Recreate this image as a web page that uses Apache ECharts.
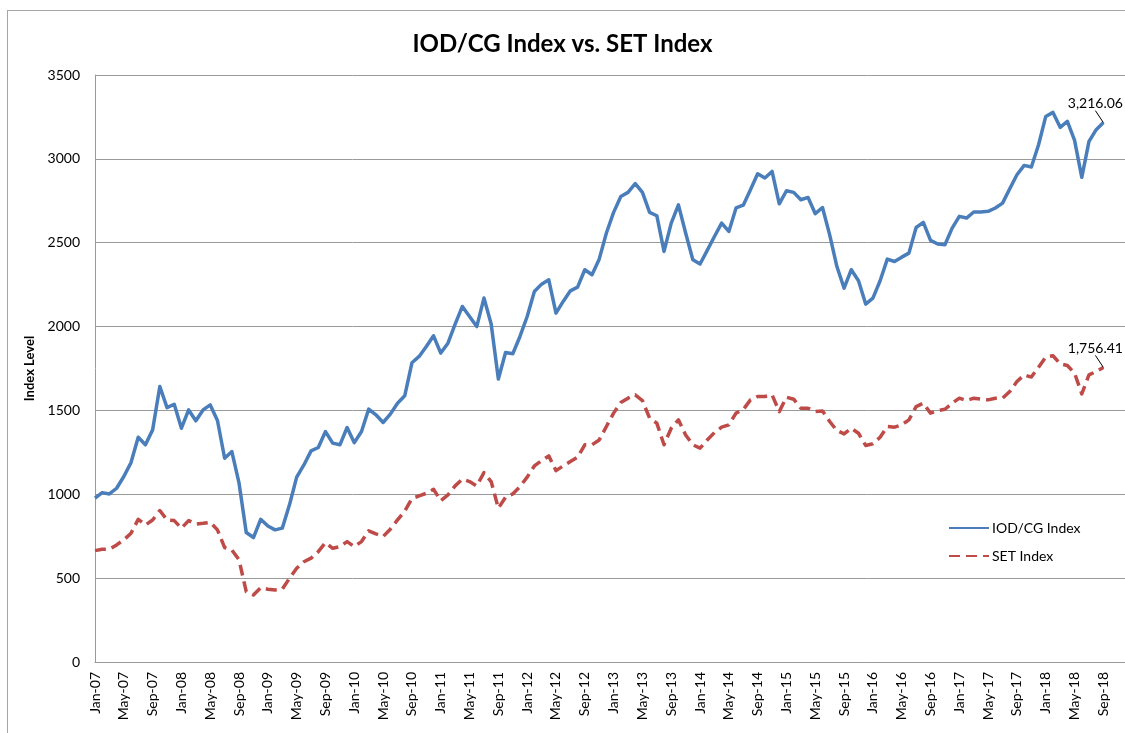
<!DOCTYPE html>
<html>
<head>
<meta charset="utf-8">
<script src="https://cdn.jsdelivr.net/npm/echarts@6/dist/echarts.min.js"></script>
<style>
  html, body { margin: 0; padding: 0; background: #fff; }
  #frame { position: absolute; left: 7px; top: 10px; width: 1200px; height: 800px;
           border-left: 1px solid #a6a6a6; border-top: 1px solid #a6a6a6; }
  #chart { position: absolute; left: 0; top: 0; width: 1125px; height: 733px; }
</style>
</head>
<body>
<div id="frame"></div>
<div id="chart"></div>
<script>
// month labels Jan-07 .. Dec-18 (data ends Sep-18)
const monthNames = ['Jan', 'Feb', 'Mar', 'Apr', 'May', 'Jun', 'Jul', 'Aug', 'Sep', 'Oct', 'Nov', 'Dec']
const years = ['07', '08', '09', '10', '11', '12', '13', '14', '15', '16', '17', '18']
const months = []
years.forEach((y) => monthNames.forEach((m) => months.push(m + '-' + y)))

const iodcg = [
  977, 1010, 1002, 1036, 1106, 1189, 1340, 1295, 1384, 1643, 1517, 1537,
  1394, 1503, 1438, 1503, 1533, 1440, 1215, 1255, 1066, 772, 742, 851,
  811, 788, 798, 937, 1102, 1175, 1259, 1279, 1374, 1305, 1295, 1398,
  1308, 1374, 1508, 1474, 1428, 1478, 1543, 1587, 1784, 1822, 1881, 1945,
  1842, 1901, 2015, 2120, 2060, 2000, 2170, 2015, 1687, 1845, 1838, 1941,
  2060, 2209, 2253, 2279, 2080, 2150, 2213, 2235, 2339, 2309, 2402, 2558,
  2681, 2776, 2800, 2852, 2800, 2681, 2661, 2448, 2617, 2726, 2558, 2398,
  2373, 2454, 2537, 2617, 2567, 2707, 2724, 2816, 2911, 2886, 2925, 2732,
  2810, 2800, 2756, 2770, 2673, 2710, 2547, 2358, 2229, 2339, 2273, 2134,
  2170, 2273, 2402, 2388, 2414, 2438, 2591, 2621, 2514, 2492, 2488, 2587,
  2657, 2647, 2683, 2683, 2687, 2707, 2736, 2822, 2905, 2961, 2951, 3084,
  3253, 3277, 3188, 3224, 3110, 2890, 3104, 3174, 3216.06
]

const setIndex = [
  664, 672, 672, 698, 728, 768, 851, 817, 847, 903, 847, 843,
  798, 843, 822, 827, 833, 788, 682, 668, 609, 419, 400, 443,
  434, 430, 434, 499, 559, 598, 619, 658, 712, 678, 688, 718,
  688, 718, 782, 764, 748, 792, 847, 900, 975, 990, 1006, 1030,
  962, 996, 1050, 1090, 1076, 1050, 1129, 1076, 917, 983, 1002, 1046,
  1102, 1169, 1201, 1229, 1141, 1169, 1195, 1221, 1295, 1295, 1324, 1404,
  1484, 1547, 1573, 1593, 1559, 1454, 1424, 1295, 1394, 1444, 1354, 1295,
  1275, 1324, 1368, 1400, 1414, 1484, 1505, 1563, 1583, 1583, 1593, 1493,
  1579, 1567, 1513, 1513, 1493, 1497, 1434, 1380, 1360, 1394, 1364, 1291,
  1301, 1340, 1404, 1400, 1414, 1444, 1523, 1543, 1484, 1499, 1507, 1543,
  1573, 1559, 1573, 1567, 1563, 1573, 1573, 1613, 1672, 1712, 1699, 1758,
  1818, 1826, 1778, 1768, 1722, 1599, 1712, 1732, 1756.41
]

const yTicks = { min: 0, max: 3500, step: 500 }
const FONT = 'Lato'

const fmtNum = (v) => v.toLocaleString('en-US', { minimumFractionDigits: 2, maximumFractionDigits: 2 })

// last point carries the value label
function withEndLabel(arr) {
  return arr.map((v, i) => i === arr.length - 1
    ? {
        value: v,
        label: { show: true, formatter: fmtNum(v), position: 'top', distance: 2, color: '#000', fontSize: 14, fontFamily: FONT },
        labelLine: { show: true, length2: 0, lineStyle: { color: '#000', width: 1 } },
      }
    : v)
}

const lastLayout = (n) => (p) => (p.dataIndex === n - 1 ? { dx: -8, dy: -10 } : {})

const chart = echarts.init(document.getElementById('chart'), null, { renderer: 'canvas' })

chart.setOption({
  animation: false,
  title: {
    text: 'IOD/CG Index vs. SET Index',
    left: 'center',
    top: 27,
    textStyle: { fontFamily: FONT, fontSize: 24, fontWeight: 'bold', color: '#000' },
  },
  legend: {
    orient: 'vertical',
    left: 943,
    top: 516,
    itemWidth: 40,
    itemHeight: 12,
    itemGap: 14,
    itemStyle: { opacity: 0 },
    textStyle: { fontFamily: FONT, fontSize: 14, color: '#000', padding: [0, 0, 0, -2] },
    data: ['IOD/CG Index', 'SET Index'],
  },
  grid: { left: 95, right: 0, top: 75, bottom: 71 },
  xAxis: {
    type: 'category',
    data: months,
    boundaryGap: false,
    axisLine: { lineStyle: { color: '#9a9a9a', width: 1 } },
    axisTick: { show: false },
    axisLabel: {
      interval: 3,
      rotate: 90,
      margin: 10,
      color: '#000',
      fontFamily: FONT,
      fontSize: 14,
    },
    splitLine: { show: false },
  },
  yAxis: {
    type: 'value',
    min: yTicks.min,
    max: yTicks.max,
    interval: yTicks.step,
    name: 'Index Level',
    nameLocation: 'middle',
    nameGap: 48,
    nameTextStyle: { fontFamily: FONT, fontSize: 13, fontWeight: 'bold', color: '#000' },
    axisLine: { show: true, lineStyle: { color: '#9a9a9a', width: 1 } },
    axisTick: { show: false },
    axisLabel: { color: '#000', fontFamily: FONT, fontSize: 14, margin: 15, formatter: (v) => String(v) },
    splitLine: { lineStyle: { color: '#9a9a9a', width: 1 } },
  },
  series: [
    {
      name: 'IOD/CG Index',
      type: 'line',
      symbol: 'circle',
      symbolSize: 0.01,
      showSymbol: true,
      data: withEndLabel(iodcg),
      lineStyle: { color: '#4a7ebb', width: 3.5, join: 'round' },
      itemStyle: { color: '#4a7ebb' },
      labelLayout: lastLayout(iodcg.length),
    },
    {
      name: 'SET Index',
      type: 'line',
      symbol: 'circle',
      symbolSize: 0.01,
      showSymbol: true,
      data: withEndLabel(setIndex),
      lineStyle: { color: '#be4b48', width: 3.5, type: [11, 6], join: 'round' },
      itemStyle: { color: '#be4b48' },
      labelLayout: lastLayout(setIndex.length),
    },
  ],
})
</script>
</body>
</html>
